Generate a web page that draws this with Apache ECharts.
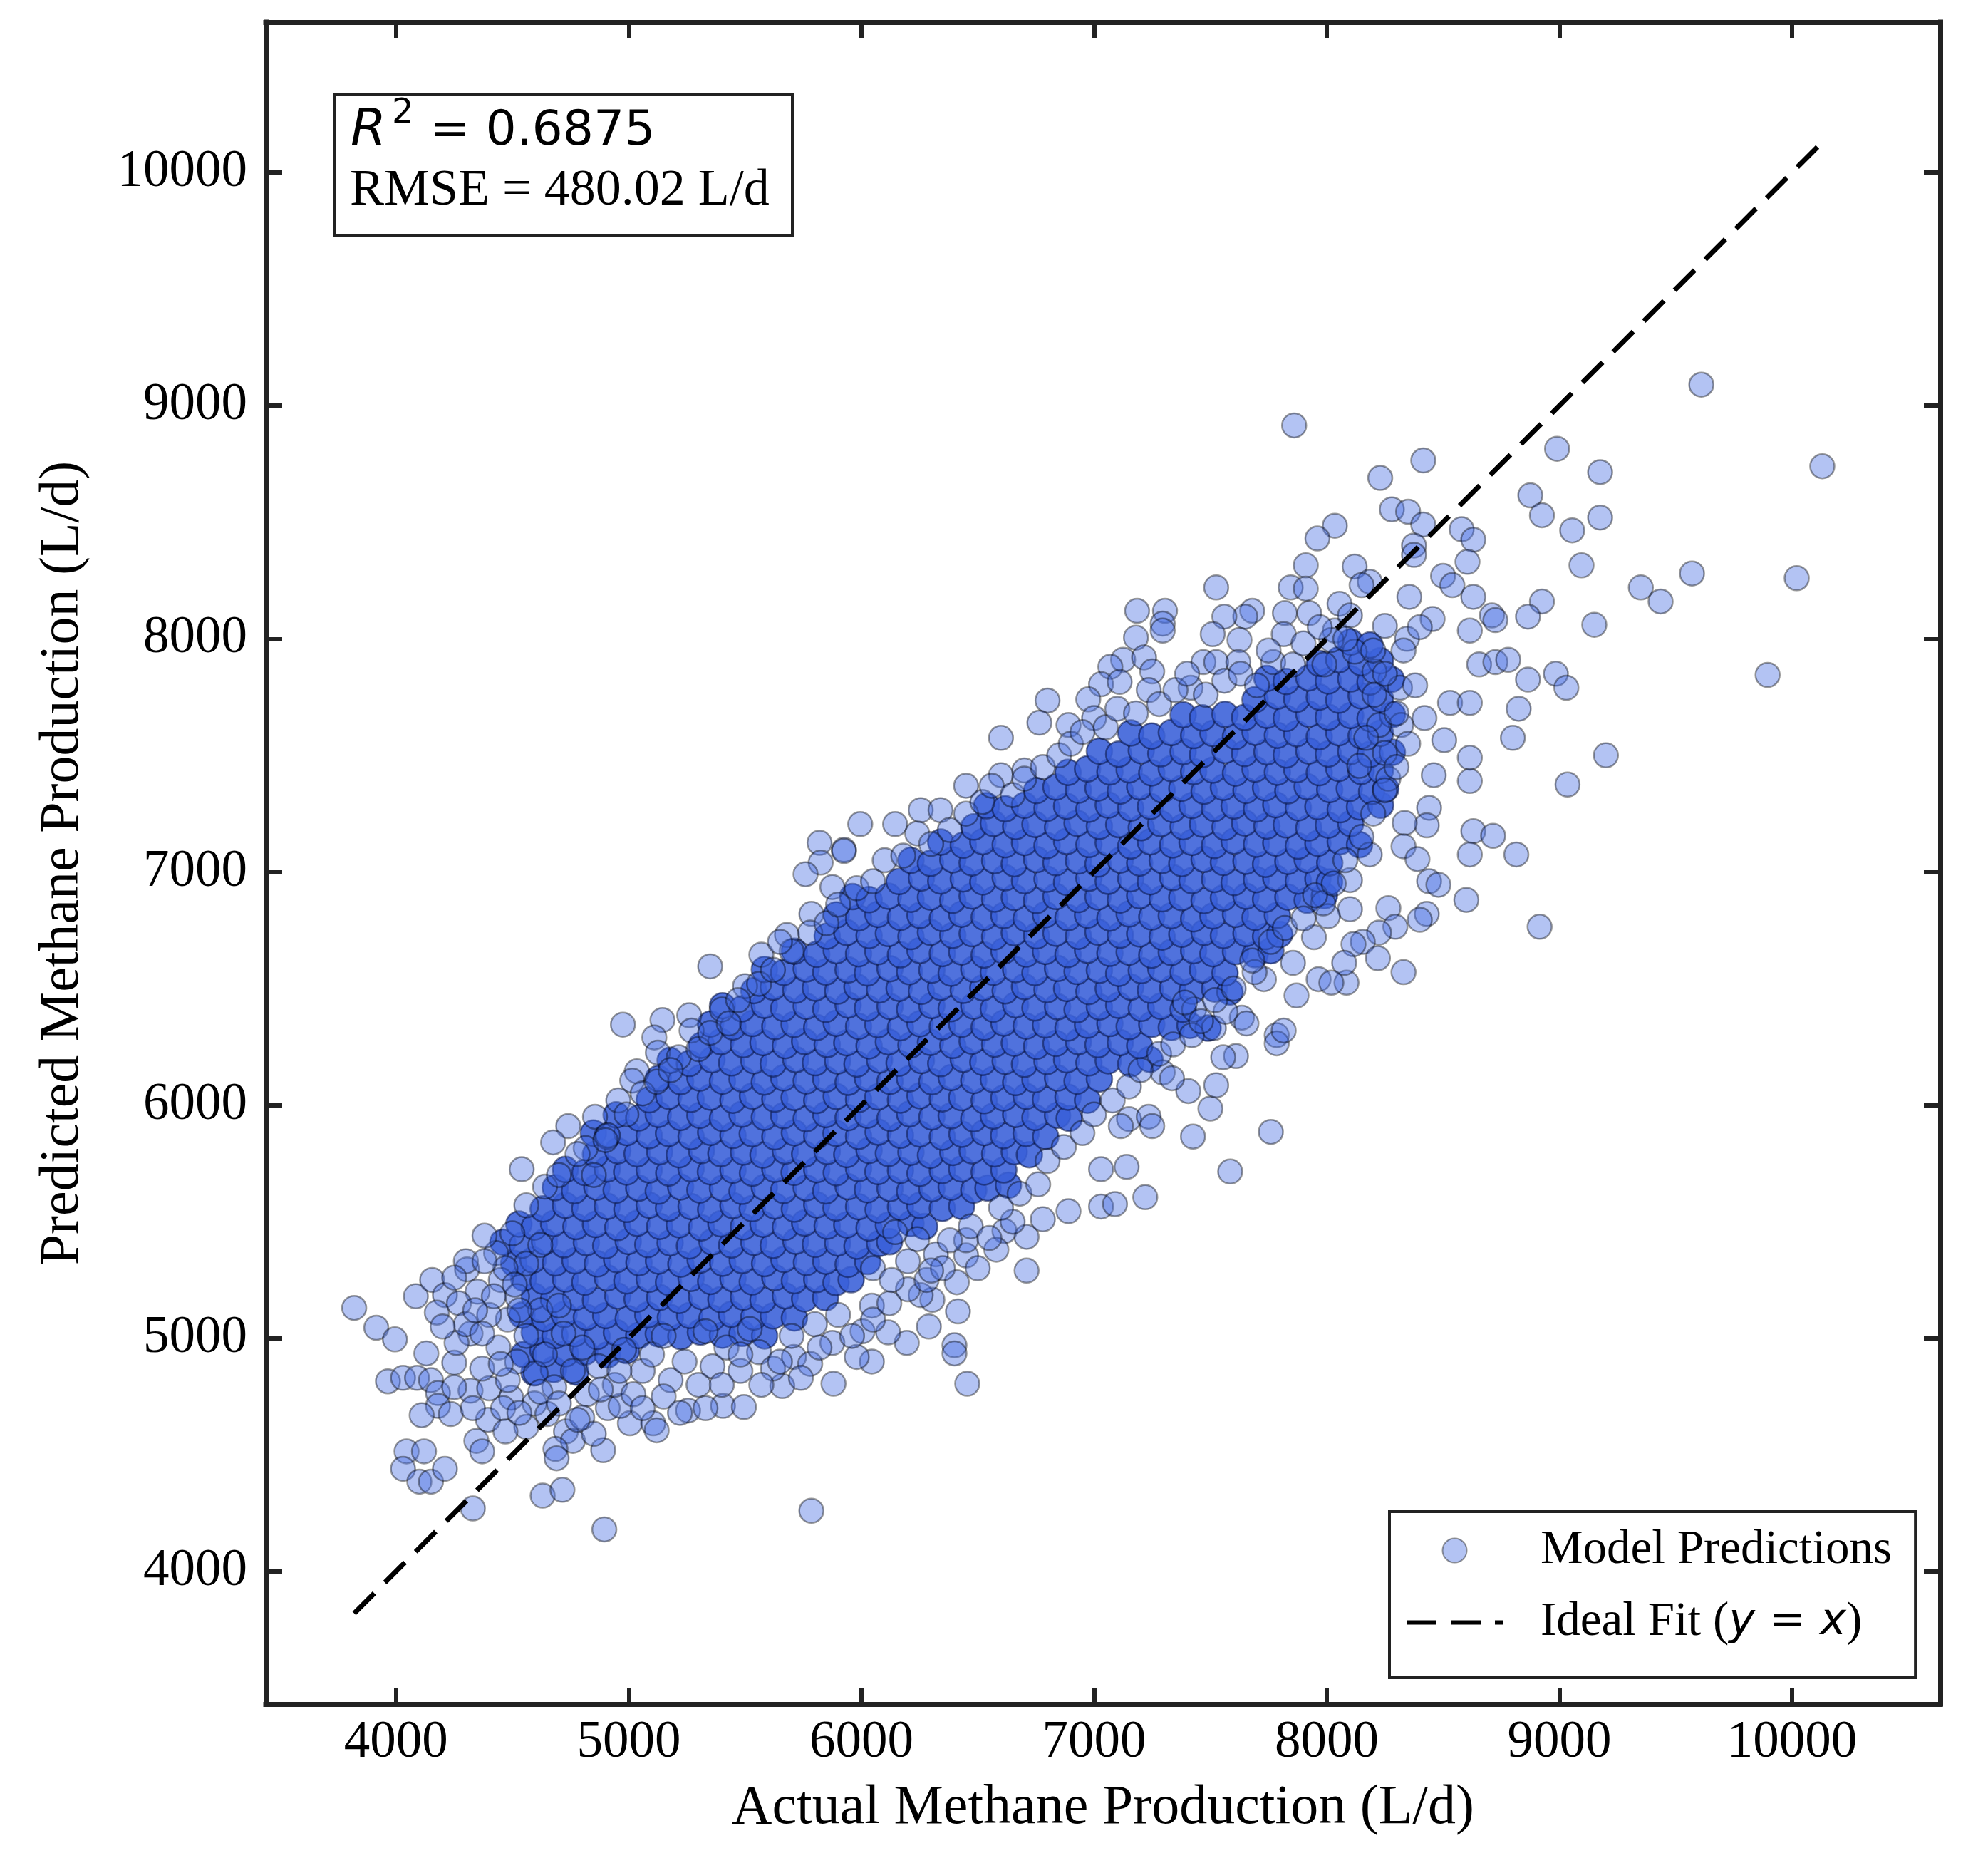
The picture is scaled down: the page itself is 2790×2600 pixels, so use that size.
<!DOCTYPE html>
<html lang="en">
<head>
<meta charset="UTF-8">
<title>Actual vs Predicted Methane Production</title>
<script src="https://cdn.jsdelivr.net/npm/echarts@6.0.0/dist/echarts.min.js"></script>
<style>
    html, body { margin: 0; padding: 0; background: #fff; }
    #chart { width: 2790px; height: 2600px; }
</style>
</head>
<body>
<div id="chart"></div>

<script>
    // axis ticks (both axes share the same values)
    const tickValues = [4000, 5000, 6000, 7000, 8000, 9000, 10000];
    const xRange = [3440, 10637];
    const yRange = [3431, 10645];

    const r2Value = '0.6875';
    const rmseValue = '480.02 L/d';

    // heavily overlapping part of the cloud (reads as solid blue), one line per band of predicted values
    const densePoints = [
        [4593,4852],[4677,4866],[4772,4855],
        [4548,4930],[4631,4948],[4729,4934],[4812,4941],[4909,4929],[4991,4947],
        [4594,5025],[4683,5011],[4768,5020],[4864,5008],[4947,5024],[5043,5012],[5127,5019],[5224,5007],[5308,5026],[5403,5013],[5487,5021],[5584,5010],
        [4541,5099],[4638,5085],[4722,5102],[4818,5090],[4901,5097],[4998,5084],[5082,5100],[5179,5089],[5262,5098],[5358,5086],[5441,5103],[5538,5091],[5621,5096],[5712,5087],
        [4594,5180],[4677,5167],[4773,5176],[4857,5163],[4953,5181],[5036,5168],[5133,5175],[5217,5162],[5313,5179],[5396,5166],[5493,5177],[5577,5164],[5673,5182],[5756,5169],[5846,5174],
        [4548,5258],[4632,5245],[4728,5254],[4811,5241],[4908,5259],[4992,5246],[5088,5253],[5171,5240],[5268,5257],[5352,5244],[5448,5255],[5531,5242],[5628,5260],[5712,5247],[5808,5252],[5891,5239],[5956,5251],
        [4506,5321],[4589,5336],[4685,5323],[4769,5332],[4865,5319],[4948,5337],[5044,5324],[5128,5331],[5224,5318],[5307,5335],[5404,5322],[5488,5333],[5584,5320],[5667,5338],[5764,5325],[5847,5330],[5943,5317],[6027,5329],
        [4459,5412],[4542,5399],[4638,5414],[4722,5401],[4818,5410],[4901,5397],[4998,5415],[5082,5402],[5178,5409],[5261,5396],[5358,5413],[5442,5400],[5538,5411],[5621,5398],[5718,5416],[5802,5403],[5898,5408],[5981,5395],[6078,5407],[6121,5414],
        [4528,5490],[4594,5477],[4677,5492],[4773,5479],[4857,5488],[4953,5475],[5036,5493],[5133,5480],[5217,5487],[5313,5474],[5396,5491],[5493,5478],[5577,5489],[5673,5476],[5756,5494],[5853,5481],[5937,5486],[6033,5473],[6116,5485],[6213,5492],[6272,5479],
        [4632,5555],[4728,5570],[4811,5557],[4908,5566],[4992,5553],[5088,5571],[5171,5558],[5268,5565],[5352,5552],[5448,5569],[5531,5556],[5628,5567],[5712,5554],[5808,5572],[5891,5559],[5988,5564],[6072,5551],[6168,5563],[6251,5570],[6348,5557],[6431,5566],
        [4684,5646],[4767,5633],[4863,5648],[4946,5635],[5043,5644],[5127,5631],[5223,5649],[5306,5636],[5403,5643],[5487,5630],[5583,5647],[5666,5634],[5763,5645],[5847,5632],[5943,5650],[6026,5637],[6123,5642],[6207,5629],[6303,5641],[6386,5648],[6483,5635],[6544,5644],[6632,5656],
        [4728,5724],[4812,5711],[4908,5726],[4991,5713],[5088,5722],[5172,5709],[5268,5727],[5351,5714],[5448,5721],[5532,5708],[5628,5725],[5711,5712],[5808,5723],[5892,5710],[5988,5728],[6071,5715],[6168,5720],[6252,5707],[6348,5719],[6431,5726],[6528,5713],[6612,5722],
        [4857,5789],[4953,5804],[5036,5791],[5133,5800],[5217,5787],[5313,5805],[5396,5792],[5493,5799],[5577,5786],[5673,5803],[5756,5790],[5853,5801],[5937,5788],[6033,5806],[6116,5793],[6213,5798],[6297,5785],[6393,5797],[6476,5804],[6573,5791],[6657,5800],[6722,5787],
        [4848,5880],[4908,5867],[4992,5882],[5088,5869],[5171,5878],[5268,5865],[5352,5883],[5448,5870],[5531,5877],[5628,5864],[5712,5881],[5808,5868],[5891,5879],[5988,5866],[6072,5884],[6168,5871],[6251,5876],[6348,5863],[6432,5875],[6528,5882],[6611,5869],[6708,5878],[6792,5865],
        [4946,5958],[5043,5945],[5127,5960],[5223,5947],[5306,5956],[5403,5943],[5487,5961],[5583,5948],[5666,5955],[5763,5942],[5847,5959],[5943,5946],[6026,5957],[6123,5944],[6207,5962],[6303,5949],[6386,5954],[6483,5941],[6567,5953],[6663,5960],[6746,5947],[6843,5956],[6893,5943],
        [5088,6023],[5172,6038],[5268,6025],[5351,6034],[5448,6021],[5532,6039],[5628,6026],[5711,6033],[5808,6020],[5892,6037],[5988,6024],[6071,6035],[6168,6022],[6252,6040],[6348,6027],[6431,6032],[6528,6019],[6612,6031],[6708,6038],[6791,6025],[6888,6034],[6972,6021],
        [5127,6114],[5223,6101],[5306,6116],[5403,6103],[5487,6112],[5583,6099],[5666,6117],[5763,6104],[5847,6111],[5943,6098],[6026,6115],[6123,6102],[6207,6113],[6303,6100],[6386,6118],[6483,6105],[6567,6110],[6663,6097],[6746,6109],[6843,6116],[6927,6103],[7023,6112],
        [5178,6192],[5261,6179],[5358,6194],[5442,6181],[5538,6190],[5621,6177],[5718,6195],[5802,6182],[5898,6189],[5981,6176],[6078,6193],[6162,6180],[6258,6191],[6341,6178],[6438,6196],[6522,6183],[6618,6188],[6701,6175],[6798,6187],[6882,6194],[6978,6181],[7061,6190],[7158,6177],[7240,6196],
        [5313,6257],[5396,6272],[5493,6259],[5577,6268],[5673,6255],[5756,6273],[5853,6260],[5937,6267],[6033,6254],[6116,6271],[6213,6258],[6297,6269],[6393,6256],[6476,6274],[6573,6261],[6657,6266],[6753,6253],[6836,6265],[6933,6272],[7017,6259],[7113,6268],[7196,6255],
        [5352,6348],[5448,6335],[5532,6350],[5628,6337],[5711,6346],[5808,6333],[5892,6351],[5988,6338],[6071,6345],[6168,6332],[6252,6349],[6348,6336],[6431,6347],[6528,6334],[6612,6352],[6708,6339],[6791,6344],[6888,6331],[6972,6343],[7068,6350],[7151,6337],[7248,6346],[7332,6333],[7412,6342],[7490,6330],
        [5403,6426],[5487,6413],[5583,6428],[5666,6415],[5763,6424],[5847,6411],[5943,6429],[6026,6416],[6123,6423],[6207,6410],[6303,6427],[6386,6414],[6483,6425],[6567,6412],[6663,6430],[6746,6417],[6843,6422],[6927,6409],[7023,6421],[7106,6428],[7203,6415],[7287,6424],[7383,6411],
        [5538,6491],[5621,6506],[5718,6493],[5802,6502],[5898,6489],[5981,6507],[6078,6494],[6162,6501],[6258,6488],[6341,6505],[6438,6492],[6522,6503],[6618,6490],[6701,6508],[6798,6495],[6882,6500],[6978,6487],[7061,6499],[7158,6506],[7242,6493],[7338,6502],[7421,6489],[7518,6498],[7584,6485],
        [5583,6582],[5666,6569],[5763,6584],[5847,6571],[5943,6580],[6026,6567],[6123,6585],[6207,6572],[6303,6579],[6386,6566],[6483,6583],[6567,6570],[6663,6581],[6746,6568],[6843,6586],[6927,6573],[7023,6578],[7106,6565],[7203,6577],[7287,6584],[7383,6571],[7466,6580],[7563,6567],
        [5712,6660],[5808,6647],[5892,6662],[5988,6649],[6071,6658],[6168,6645],[6252,6663],[6348,6650],[6431,6657],[6528,6644],[6612,6661],[6708,6648],[6791,6659],[6888,6646],[6972,6664],[7068,6651],[7151,6656],[7248,6643],[7332,6655],[7428,6662],[7511,6649],[7608,6658],[7692,6645],[7760,6662],
        [5853,6725],[5937,6740],[6033,6727],[6116,6736],[6213,6723],[6297,6741],[6393,6728],[6476,6735],[6573,6722],[6657,6739],[6753,6726],[6836,6737],[6933,6724],[7017,6742],[7113,6729],[7196,6734],[7293,6721],[7377,6733],[7473,6740],[7556,6727],[7653,6736],[7737,6723],[7798,6732],
        [5892,6816],[5988,6803],[6071,6818],[6168,6805],[6252,6814],[6348,6801],[6431,6819],[6528,6806],[6612,6813],[6708,6800],[6791,6817],[6888,6804],[6972,6815],[7068,6802],[7151,6820],[7248,6807],[7332,6812],[7428,6799],[7511,6811],[7608,6818],[7692,6805],[7788,6814],
        [5962,6894],[6033,6881],[6116,6896],[6213,6883],[6297,6892],[6393,6879],[6476,6897],[6573,6884],[6657,6891],[6753,6878],[6836,6895],[6933,6882],[7017,6893],[7113,6880],[7196,6898],[7293,6885],[7377,6890],[7473,6877],[7556,6889],[7653,6896],[7737,6883],[7833,6892],[7916,6879],[7990,6898],
        [6162,6959],[6258,6974],[6341,6961],[6438,6970],[6522,6957],[6618,6975],[6701,6962],[6798,6969],[6882,6956],[6978,6973],[7061,6960],[7158,6971],[7242,6958],[7338,6976],[7421,6963],[7518,6968],[7602,6955],[7698,6967],[7781,6974],[7878,6961],[7962,6970],[8012,6957],
        [6213,7050],[6297,7037],[6393,7052],[6476,7039],[6573,7048],[6657,7035],[6753,7053],[6836,7040],[6933,7047],[7017,7034],[7113,7051],[7196,7038],[7293,7049],[7377,7036],[7473,7054],[7556,7041],[7653,7046],[7737,7033],[7833,7045],[7916,7052],[8013,7039],
        [6341,7128],[6438,7115],[6522,7130],[6618,7117],[6701,7126],[6798,7113],[6882,7131],[6978,7118],[7061,7125],[7158,7112],[7242,7129],[7338,7116],[7421,7127],[7518,7114],[7602,7132],[7698,7119],[7781,7124],[7878,7111],[7962,7123],[8058,7130],[8141,7117],
        [6483,7193],[6567,7208],[6663,7195],[6746,7204],[6843,7191],[6927,7209],[7023,7196],[7106,7203],[7203,7190],[7287,7207],[7383,7194],[7466,7205],[7563,7192],[7647,7210],[7743,7197],[7826,7202],[7923,7189],[8007,7201],[8103,7208],
        [6538,7284],[6618,7271],[6701,7286],[6798,7273],[6882,7282],[6978,7269],[7061,7287],[7158,7274],[7242,7281],[7338,7268],[7421,7285],[7518,7272],[7602,7283],[7698,7270],[7781,7288],[7878,7275],[7962,7280],[8058,7267],[8141,7279],[8232,7286],
        [6753,7349],[6836,7364],[6933,7351],[7017,7360],[7113,7347],[7196,7365],[7293,7352],[7377,7359],[7473,7346],[7556,7363],[7653,7350],[7737,7361],[7833,7348],[7916,7366],[8013,7353],[8097,7358],[8193,7345],[8254,7357],
        [6888,7427],[6972,7442],[7068,7429],[7151,7438],[7248,7425],[7332,7443],[7428,7430],[7511,7437],[7608,7424],[7692,7441],[7788,7428],[7871,7439],[7968,7426],[8052,7444],[8148,7431],[8231,7436],
        [7023,7518],[7106,7505],[7203,7520],[7287,7507],[7383,7516],[7466,7503],[7563,7521],[7647,7508],[7743,7515],[7826,7502],[7923,7519],[8007,7506],[8103,7517],[8186,7504],[8282,7513],
        [7158,7596],[7248,7583],[7332,7598],[7428,7585],[7511,7594],[7608,7581],[7692,7599],[7788,7586],[7871,7593],[7968,7580],[8052,7597],[8148,7584],[8231,7595],
        [7383,7674],[7466,7661],[7563,7676],[7647,7663],[7743,7672],[7826,7659],[7923,7677],[8007,7664],[8103,7671],[8186,7658],[8282,7675],
        [7692,7739],[7788,7754],[7871,7741],[7968,7750],[8052,7737],[8148,7755],[8231,7742],
        [7743,7830],[7826,7817],[7923,7832],[8007,7819],[8103,7828],[8186,7815],[8278,7826],
        [7968,7895],[8052,7910],[8148,7897],[8231,7906],
        [8103,7986],[8186,7973]
    ];

    // separate / lightly overlapping predictions around the core and the outliers
    const scatterPoints = [
        // upper right
        [9610,9090],[10130,8740],[8990,8815],[9175,8715],[8415,8765],[8230,8690],[8875,8615],[8925,8530],[9055,8465],[9175,8520],
        [8280,8555],[8350,8545],[8415,8490],[8580,8470],[8630,8425],[8605,8330],[8375,8400],[8375,8360],[8500,8270],[8540,8230],
        [8120,8310],[8185,8245],[9095,8315],[9570,8280],[10020,8260],[9350,8220],[9435,8160],[8355,8180],[8455,8085],[8630,8180],
        [8710,8100],[8725,8080],[8925,8160],[8865,8095],[8615,8035],[9150,8060],[8250,8055],[8345,8000],[8120,7945],[8205,7860],
        [8315,7790],[8205,7760],[8655,7890],[8725,7900],[8780,7910],[8865,7825],[8985,7850],[9030,7790],[9895,7845],[8825,7700],
        [8800,7575],[9200,7500],[9035,7375],[8530,7725],[8615,7725],[8420,7660],[8320,7630],[8225,7630],[8505,7565],[8615,7490],
        [8460,7415],[8615,7390],[8250,7510],[8170,7575],[8265,7400],[8140,7455],
        // right of the cloud
        [8440,7275],[8430,7200],[8335,7210],[8330,7110],[8185,7075],[8390,7055],[8630,7175],[8715,7155],[8615,7075],[8815,7075],
        [8440,6960],[8480,6945],[8600,6880],[8915,6765],[8100,6965],[8265,6845],[8430,6820],[8400,6795],[8295,6765],[8225,6740],
        [8155,6700],[8115,6690],[8220,6630],[8330,6570],[8085,6525],[8100,6840],
        // top edge
        [7860,8915],[8035,8485],[7960,8430],[7910,8315],[7525,8220],[7845,8220],[7910,8215],[7185,8120],[7305,8120],[7680,8120],
        [7650,8095],[7820,8110],[7925,8110],[8055,8150],[7295,8065],[7295,8035],[7180,8005],[7560,8095],[7510,8020],[7625,7995],
        [7815,8020],[8035,8035],[8020,7995],[7125,7910],[7215,7920],[7070,7880],[7250,7860],[7470,7900],[7525,7900],[7620,7900],
        [7770,7900],[7855,7890],[7990,7890],[7030,7805],[7110,7815],[7235,7780],[7415,7790],[6800,7735],[6975,7740],[6600,7575],
        [6765,7640],[6890,7630],[7000,7660],[6450,7370],[6600,7415],[6700,7435],
        // upper left edge
        [5820,7125],[5925,7095],[5825,7040],[5760,6990],[5875,6935],[5785,6820],[5680,6730],[5570,6645],[5350,6595],[5500,6510],
        [4975,6345],[5145,6365],[5260,6385],[5400,6410],[5110,6290],[5125,6225],[5215,6205],[5270,6320],[5035,6145],[5015,6105],
        [4855,5950],[4740,5910],[4675,5840],[4540,5725],[4955,6020],[4815,5815],[4910,5870],
        [5995,7205],[5925,7090],[6145,7205],[6255,7265],[6340,7265],[6240,7165],
        // lower left
        [3820,5130],[3915,5045],[3995,4995],[4085,5180],[4155,5250],[4210,5185],[4175,5110],[4305,5295],[4350,5200],[4430,5365],
        [4130,4935],[3965,4815],[4030,4830],[4090,4830],[4150,4820],[4180,4765],[4180,4710],[4110,4670],[4235,4675],[4320,4775],
        [4400,4785],[4250,4895],[4395,4650],[4345,4560],[4370,4515],[4045,4515],[4120,4515],[4030,4440],[4100,4385],[4150,4385],
        [4210,4440],[4330,4270],[4630,4325],[4715,4350],[4895,4180],[5785,4260],[4730,4600],[4760,4560],[4685,4525],[4890,4520],
        [4690,4485],[4495,4745],[4595,4720],[4650,4675],[5005,4635],[5105,4635],[5120,4605],[4910,4700],[4965,4710],[5255,4690],
        [5405,4710],[5495,4705],[5660,4795],[5710,4920],[5875,4980],[5880,4805],
        // below the cloud
        [6710,5290],[6455,4805],[6400,4970],[6400,4935],[6415,5115],[6290,5050],[6195,4980],[6115,5025],[6005,5030],[6045,5140],
        [6045,4900],[5980,4920],[6305,5165],[6255,5185],[6410,5240],[6320,5360],[6450,5355],[6615,5460],[6710,5435],[6780,5510],
        [6890,5545],[7030,5565],[7090,5575],[7220,5605],[6240,5425],[6145,5455],
        [7760,5885],[7585,5715],[7425,5865],[7140,5735],[7030,5725],[7500,5985],[7405,6060],[7525,6085],[7610,6210],[7555,6205],
        [7785,6300],[7785,6265],[7815,6320],[7635,6375],[7655,6350],[7515,6330],[7565,6400],[7870,6470],[7965,6540],[8075,6610],
        [8020,6525],[7730,6540],[7690,6570],[7855,6610],[7945,6720],[8005,6810],[7985,6865],[7430,6410],[7390,6440],[7295,6140],
        [7335,6115],[7150,5940],[7235,5950],[7250,5910],[7115,5910],
        // half-covered band round the core
        [4450,5250],[4520,5180],[4480,5080],[4560,5010],[4440,4960],[4520,4900],[4600,4850],[4480,4820],[4680,4790],[4760,4860],
        [4640,4930],[4720,5020],[4800,4960],[4870,4880],[4940,4800],[4820,4760],[5020,4760],[5060,4860],[4980,4950],[5100,4930],
        [5180,4820],[5240,4900],[5150,5010],[5300,4800],[5360,4880],[5420,4960],[5330,5030],[5480,4860],[5560,4940],[5520,5040],
        [5620,4870],[5700,5010],[5780,4890],[5800,5060],[4560,5320],[4620,5400],[4500,5450],[4380,5440],[4400,5100],[4320,5020],
        [4260,4980],[4370,4870],[4460,4700],[4560,4620],[4800,4660],[4850,4590],[4620,5120],[4700,5140],[4560,5570],[4640,5650],
        [4300,5330],[4250,5260],[4270,5150],[4300,5060],[4200,5050],[4250,4790],[4330,4700],[4470,4600],[4530,4680],[4620,4770],
        [4700,4720],[4780,4650],[4880,4780],[4960,4860],[5060,4700],[5150,4750],[5220,4680],[5330,4700],[5400,4800],[5480,4930],
        [5570,4800],[5650,4900],[5740,4830],[5820,4960],[5900,5100],[5960,5010],[6050,5080],[6120,5150],[6200,5210],[6280,5250],
        [6350,5300],[6450,5420],[6500,5300],[6580,5380],[6650,5500],
        [4370,5020],[4420,5180],[4470,5300],[4380,5330],[4340,5120],[4450,4890],[4530,5120],[4510,5230],
        [4700,5700],[4780,5790],[4850,5700],[4900,5850],[4990,5960],[5060,6050],[5120,6100],[5180,6150],[5300,6240],[5350,6310],
        [5430,6350],[5470,6450],[5560,6520],[5620,6580],[5700,6660],[5650,6700],[5780,6740],[5850,6780],[5900,6860],[5980,6930],
        [6050,6960],[6100,7050],[6180,7070],[6300,7120],[6380,7180],[6450,7250],[6520,7300],[6560,7370],[6650,7330],[6700,7400],
        [6780,7450],[6850,7500],[6900,7550],[6950,7600],[7050,7620],[7100,7700],[7180,7680],[7280,7720],[7350,7780],[7400,7850],
        [7480,7760],[7560,7820],[7630,7850],[7700,7800],[7750,7950],[7900,7980],[7970,8050],[8100,8100],[8150,8230],[8080,8000],
        [6050,5300],[6130,5250],[6200,5330],[6300,5290],[6380,5420],[6470,5480],[6550,5430],[6600,5560],[6680,5620],[6760,5660],
        [6800,5760],[6870,5820],[6950,5880],[7000,5960],[7080,6020],[7150,6080],[7200,6150],[7280,6220],[7340,6260],[7420,6300],
        [7460,6360],[7520,6450],[7600,6500],[7680,6620],[7760,6700],[7820,6760],[7900,6800],[7950,6900],[8030,6950],[8080,7050],
        [8150,7150],[8200,7250],[8250,7350],[8300,7450],[8350,7550],[8300,7680],[8380,7800],[8250,7850],[8330,7950],[8400,8050],
        [8200,7950]
    ];

    const serif = 'Liberation Serif';
    const mathFont = 'DejaVu Sans';
    const spine = '#222';
    // three dashes (42 on, 20 off) inside a 135 x 34 legend key, like the plotted line
    const dashKey = 'path://M0,0L0.1,0L0.1,0.1ZM135,34L134.9,34L134.9,33.9Z' +
        'M0,14L42,14L42,20L0,20ZM62,14L104,14L104,20L62,20ZM124,14L135,14L135,20L124,20Z';

    // y = x reference line spans the observed range of actual values
    const actualValues = densePoints.concat(scatterPoints).map(p => p[0]);
    const lo = Math.min(...actualValues);
    const hi = Math.max(...actualValues);
    const idealLine = [[lo, lo], [hi, hi]];

    function valueAxis(pos, range, showLabel) {
        return {
            type: 'value',
            position: pos,
            min: range[0],
            max: range[1],
            splitLine: { show: false },
            axisLine: { show: true, onZero: false, lineStyle: { color: spine, width: 7, cap: 'square' } },
            axisTick: { show: true, inside: true, length: 23, customValues: tickValues,
                        lineStyle: { color: spine, width: 6 } },
            axisLabel: { show: showLabel, customValues: tickValues, margin: 18,
                         formatter: v => String(v),
                         fontFamily: serif, fontSize: 73, color: '#000' }
        };
    }

    const xBottom = valueAxis('bottom', xRange, true);
    xBottom.name = 'Actual Methane Production (L/d)';
    xBottom.nameLocation = 'middle';
    xBottom.nameGap = 108;
    xBottom.nameTextStyle = { fontFamily: serif, fontSize: 78, color: '#000' };

    const yLeft = valueAxis('left', yRange, true);
    yLeft.axisLabel.margin = 26;
    yLeft.name = 'Predicted Methane Production (L/d)';
    yLeft.nameLocation = 'middle';
    yLeft.nameGap = 245;
    yLeft.nameTextStyle = { fontFamily: serif, fontSize: 78, color: '#000' };

    const option = {
        animation: false,
        backgroundColor: '#fff',
        grid: { left: 373, right: 67, top: 31, bottom: 209 },
        xAxis: [xBottom, valueAxis('top', xRange, false)],
        yAxis: [yLeft, valueAxis('right', yRange, false)],
        legend: {
            data: [
                'Model Predictions',
                { name: 'Ideal Fit (y = x)', icon: dashKey, itemStyle: { color: '#000', borderWidth: 0 } }
            ],
            orient: 'vertical',
            left: 1950,
            top: 2121,
            itemWidth: 135,
            itemHeight: 34,
            itemGap: 34,
            padding: [21, 33, 44, 24],
            backgroundColor: '#fff',
            borderColor: spine,
            borderWidth: 4,
            borderRadius: 0,
            formatter: function (name) {
                if (name === 'Ideal Fit (y = x)') {
                    return '{sp| }{t|Ideal Fit (}{m|y}{e| = }{m|x}{t|)}';
                }
                return '{sp| }{t|' + name + '}';
            },
            textStyle: {
                rich: {
                    sp: { width: 48, lineHeight: 72 },
                    t: { fontFamily: serif, fontSize: 67, color: '#000', lineHeight: 72 },
                    m: { fontFamily: mathFont, fontStyle: 'italic', fontSize: 62, color: '#000', lineHeight: 72 },
                    e: { fontFamily: mathFont, fontSize: 62, color: '#000', lineHeight: 72 }
                }
            }
        },
        graphic: [
            {
                type: 'rect', left: 468, top: 130, z: 100,
                shape: { width: 642, height: 199 },
                style: { fill: '#fff', stroke: spine, lineWidth: 4 }
            },
            {
                type: 'text', x: 492, y: 184, z: 101,
                style: { text: 'R', fontFamily: mathFont, fontStyle: 'italic', fontSize: 72,
                         fill: '#000', verticalAlign: 'middle' }
            },
            {
                type: 'text', x: 550, y: 160, z: 101,
                style: { text: '2', fontFamily: mathFont, fontSize: 48,
                         fill: '#000', verticalAlign: 'middle' }
            },
            {
                type: 'text', x: 603, y: 185, z: 101,
                style: { text: '= ' + r2Value, fontFamily: mathFont, fontSize: 68,
                         fill: '#000', verticalAlign: 'middle' }
            },
            {
                type: 'text', x: 491, y: 268, z: 101,
                style: { text: 'RMSE = ' + rmseValue, fontFamily: serif, fontSize: 72,
                         fill: '#000', verticalAlign: 'middle' }
            }
        ],
        series: [
            {
                name: 'Model Predictions (overlap)',
                type: 'scatter',
                data: densePoints,
                symbol: 'circle',
                symbolSize: 36,
                itemStyle: { color: 'rgba(56,94,216,0.88)', borderColor: 'rgba(10,20,65,0.55)', borderWidth: 2.5, opacity: 1 }
            },
            {
                name: 'Model Predictions',
                type: 'scatter',
                data: scatterPoints,
                symbol: 'circle',
                symbolSize: 34,
                itemStyle: { color: 'rgba(65,105,225,0.4)', borderColor: 'rgba(0,0,0,0.4)', borderWidth: 2.5, opacity: 1 }
            },
            {
                name: 'Ideal Fit (y = x)',
                type: 'line',
                data: idealLine,
                symbol: 'none',
                z: 10,
                lineStyle: { color: '#000', width: 7, type: [40, 21] },
                itemStyle: { color: '#000' }
            }
        ]
    };

    const chart = echarts.init(document.getElementById('chart'));
    chart.setOption(option);
</script>
</body>
</html>
